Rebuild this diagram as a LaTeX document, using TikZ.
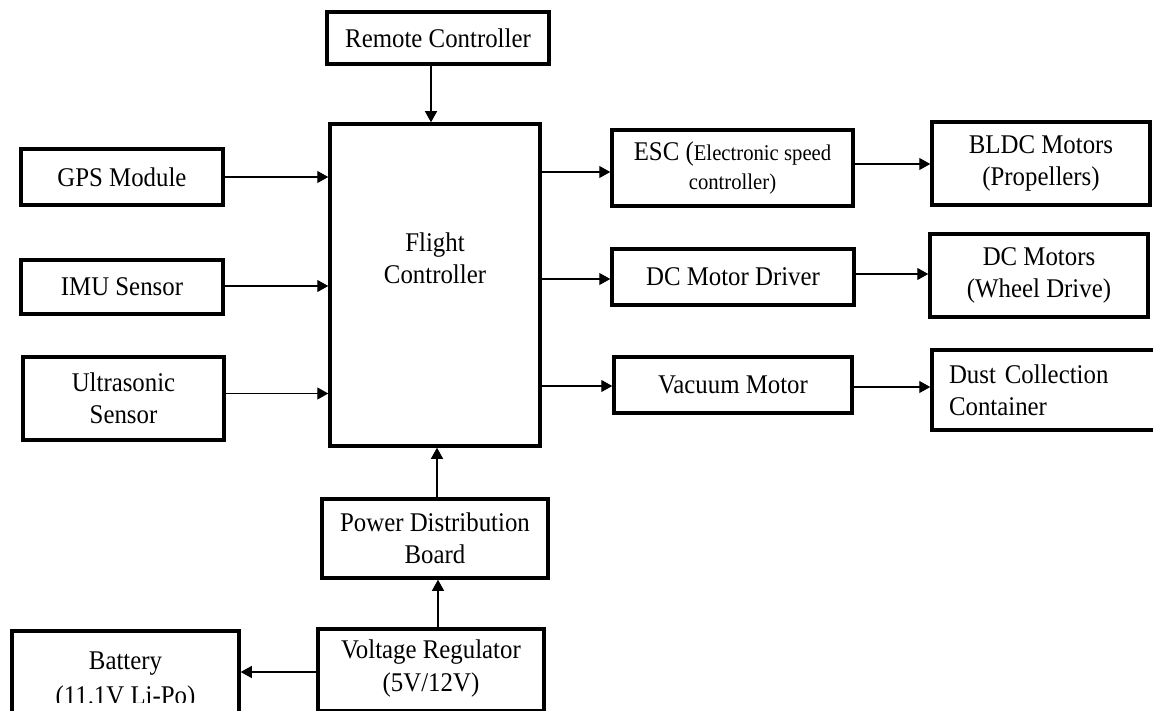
\documentclass[tikz,border=0pt]{standalone}
\usepackage{fontspec}
\setmainfont[FakeStretch=0.92]{Liberation Serif}
\usetikzlibrary{arrows.meta}
\begin{document}
\begin{tikzpicture}[x=1pt,y=-1pt,
  box/.style={draw, line width=3.5pt, inner sep=2pt, align=center,
    font=\fontsize{27}{32}\selectfont},
  txt/.style={inner sep=0pt, align=center, font=\fontsize{27}{32}\selectfont},
  arr/.style={-{Triangle[length=11pt,width=12pt]}, line width=1.2pt}]
\useasboundingbox (0,0) rectangle (1153,711);
\fill[white] (0,0) rectangle (1153,711);
% left column
\node[box, minimum width=222pt, minimum height=52pt] (rc) at (438,38) {Remote Controller};
\node[box, minimum width=210pt, minimum height=322pt] (fc) at (435,285) {};
\node[txt] (fct) at (435,258) {Flight\\Controller};
\node[box, minimum width=202pt, minimum height=56pt] (gps) at (122,177) {GPS Module};
\node[box, minimum width=202pt, minimum height=54pt] (imu) at (122,287) {IMU Sensor};
\node[box, minimum width=201pt, minimum height=83pt] (us) at (123.5,398.5) {Ultrasonic\\Sensor};
\node[box, minimum width=226pt, minimum height=79pt] (pdb) at (435,538.5) {Power Distribution\\Board};
\node[box, minimum width=226pt, minimum height=82pt] (vr) at (431,670) {};
\node[txt, font=\fontsize{27}{33}\selectfont] (vrt) at (431,669) {Voltage Regulator\\(5V/12V)};
\node[box, minimum width=227pt, minimum height=95pt] (bat) at (125.5,678.5) {};
\begin{scope}
  \clip (0,600) rectangle (260,702);
  \node[txt, font=\fontsize{27}{35}\selectfont] (batt) at (125.5,681) {Battery\\(11.1V Li-Po)};
\end{scope}
% right columns
\node[box, minimum width=241pt, minimum height=76pt,
  font=\fontsize{22.5}{29}\selectfont] (esc) at (732.5,168)
  {{\fontsize{27}{32}\selectfont ESC (}Electronic speed\\controller)};
\node[box, minimum width=218pt, minimum height=83pt] (bldc) at (1041,163.5) {BLDC Motors\\(Propellers)};
\node[box, minimum width=242pt, minimum height=56pt] (dmd) at (733,277) {DC Motor Driver};
\node[box, minimum width=218pt, minimum height=83pt] (dcm) at (1039,275.5) {DC Motors\\(Wheel Drive)};
\node[box, minimum width=238pt, minimum height=56pt] (vm) at (733,385) {Vacuum Motor};
\node[box, align=left, text width=190pt, inner xsep=17pt, minimum height=80pt] (dcc) at (1044,390) {Dust Collection\\Container};
% connectors
\draw[arr] ([xshift=-7pt]rc.south) -- ([xshift=-7pt]rc.south |- fc.north);
\draw[arr] (gps.east) -- (gps.east -| fc.west);
\draw[arr] ([yshift=1pt]imu.east) -- ([yshift=1pt]imu.east -| fc.west);
\draw[arr] ([yshift=5pt]us.east) -- ([yshift=5pt]us.east -| fc.west);
\draw[arr] ([yshift=-4pt]esc.west -| fc.east) -- ([yshift=-4pt]esc.west);
\draw[arr] ([yshift=-2pt]dmd.west -| fc.east) -- ([yshift=-2pt]dmd.west);
\draw[arr] ([yshift=-1pt]vm.west -| fc.east) -- ([yshift=-1pt]vm.west);
\draw[arr] ([yshift=4pt]esc.east) -- ([yshift=4pt]esc.east -| bldc.west);
\draw[arr] ([yshift=3pt]dmd.east) -- ([yshift=3pt]dmd.east -| dcm.west);
\draw[arr] ([yshift=-2pt]vm.east) -- ([yshift=-2pt]vm.east -| dcc.west);
\draw[arr] ([xshift=2pt]pdb.north) -- ([xshift=2pt]pdb.north |- fc.south);
\draw[arr] ([xshift=7pt]vr.north) -- ([xshift=7pt]vr.north |- pdb.south);
\draw[arr] ([yshift=-2pt]vr.west) -- ([yshift=-2pt]vr.west -| bat.east);
\end{tikzpicture}
\end{document}
